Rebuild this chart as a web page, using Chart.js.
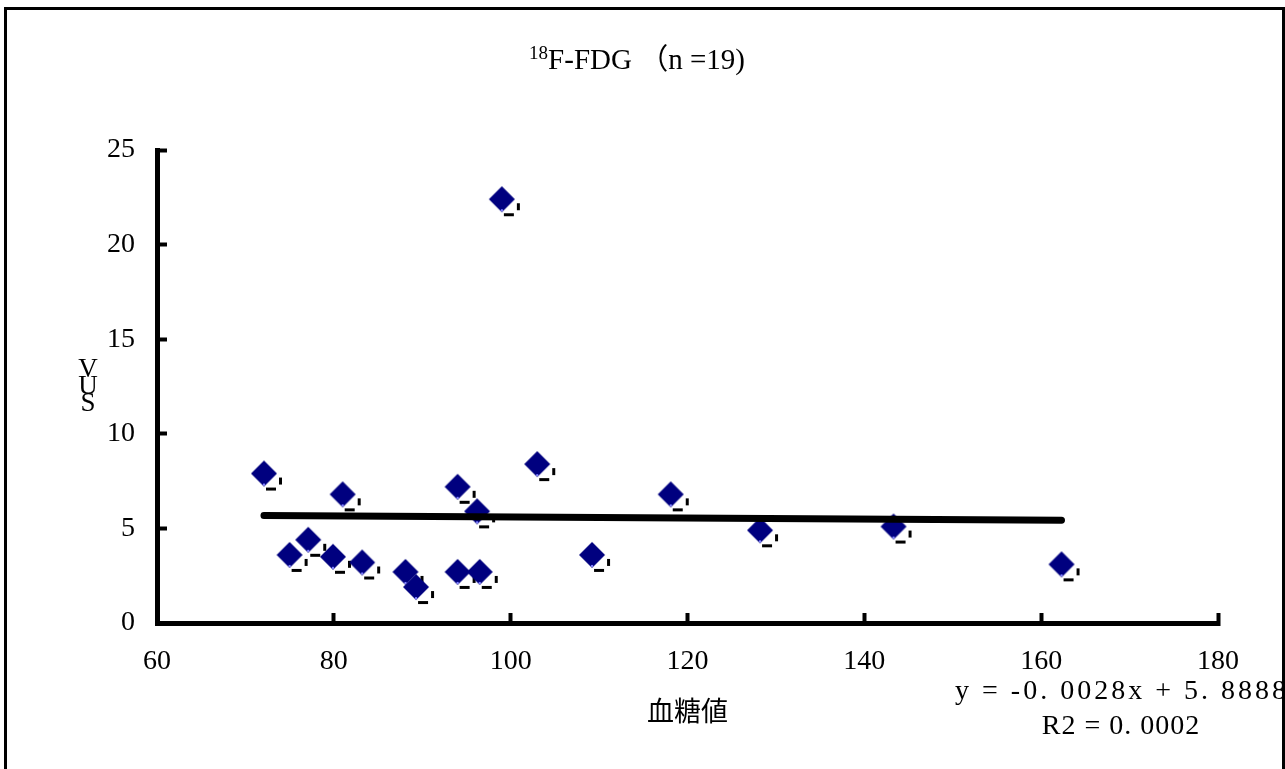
<!DOCTYPE html>
<html>
<head>
<meta charset="utf-8">
<script src="https://cdn.jsdelivr.net/npm/chart.js@4.4.0/dist/chart.umd.min.js"></script>
<style>
    body { margin: 0; background: #fff; }
    #frame {
        position: absolute;
        left: 4px;
        top: 7px;
        width: 1275px;
        height: 800px;
        border: 3px solid #000;
    }
    #chart { position: absolute; left: 0; top: 0; }
</style>
</head>
<body>
<div id="frame"></div>
<canvas id="chart" width="1285" height="769"></canvas>
<script>
// blood glucose (x) vs SUV (y)
const glucose = [72.1, 75.0, 77.1, 79.9, 81.0, 83.2, 88.1, 89.3, 94.0, 94.0, 96.2, 96.5, 99.0, 103.0, 109.2, 118.1, 128.2, 143.3, 162.3];
const suv = [7.9, 3.6, 4.4, 3.5, 6.8, 3.2, 2.7, 1.9, 7.2, 2.7, 5.9, 2.7, 22.4, 8.4, 3.6, 6.8, 4.9, 5.1, 3.1];

// trend line as printed on the chart
const trendSlope = -0.0028;
const trendIntercept = 5.8888;
const trendText = ['y = -0. 0028x + 5. 8888', 'R2 = 0. 0002'];

const titleSup = '18';
const titleMain = 'F-FDG \uFF08n =19)';
const xTitle = '血糖値';
const yTitleLetters = ['S', 'U', 'V'];

const xTicks = { min: 60, max: 180, step: 20 };
const yTicks = { min: 0, max: 25, step: 5 };

const points = glucose.map((g, i) => ({ x: g, y: suv[i] }));
const xLo = Math.min(...glucose);
const xHi = Math.max(...glucose);
const trendPoints = [
    { x: xLo, y: trendSlope * xLo + trendIntercept },
    { x: xHi, y: trendSlope * xHi + trendIntercept }
];

const serif = "'Liberation Serif', 'Noto Sans CJK JP', serif";

// navy diamond with the little black shadow marks
function makeMarker() {
    const c = document.createElement('canvas');
    c.width = 46;
    c.height = 46;
    const g = c.getContext('2d');
    const cx = 23, cy = 23, h = 13;
    g.fillStyle = '#000';
    g.fillRect(cx + 15, cy + 4, 3, 7);
    g.fillRect(cx + 2, cy + 14, 10, 3);
    g.fillStyle = '#00007f';
    g.beginPath();
    g.moveTo(cx, cy - h);
    g.lineTo(cx + h, cy);
    g.lineTo(cx, cy + h);
    g.lineTo(cx - h, cy);
    g.closePath();
    g.fill();
    g.fillStyle = '#8080ff';
    g.fillRect(cx - 1, cy + h - 3, 2, 2);
    return c;
}

const annotations = {
    id: 'annotations',
    afterDraw(chart) {
        const ctx = chart.ctx;
        const area = chart.chartArea;
        const yMid = chart.scales.y.getPixelForValue((yTicks.min + yTicks.max) / 2);
        ctx.save();
        ctx.fillStyle = '#000';
        ctx.textBaseline = 'middle';

        // title with superscript mass number
        ctx.textAlign = 'left';
        ctx.font = '19px ' + serif;
        const supW = ctx.measureText(titleSup).width;
        ctx.font = '29px ' + serif;
        const mainW = ctx.measureText(titleMain).width;
        const tx = 637 - (supW + mainW) / 2;
        ctx.fillText(titleMain, tx + supW, 61);
        ctx.font = '19px ' + serif;
        ctx.fillText(titleSup, tx, 54);

        ctx.textAlign = 'center';
        ctx.font = '27px ' + serif;
        // stacked y label
        yTitleLetters.forEach((ch, i) => {
            ctx.fillText(ch, area.left - 69, yMid + 17 - i * 17);
        });
        // regression text
        ctx.font = '28px ' + serif;
        ctx.letterSpacing = '3px';
        ctx.fillText(trendText[0], area.right - 96, area.bottom + 69);
        ctx.letterSpacing = '1px';
        ctx.fillText(trendText[1], area.right - 97, area.bottom + 104);
        ctx.restore();
    }
};

new Chart(document.getElementById('chart'), {
    type: 'scatter',
    data: {
        datasets: [
            {
                type: 'line',
                data: trendPoints,
                borderColor: '#000',
                borderWidth: 7,
                borderCapStyle: 'round',
                pointRadius: 0,
                fill: false,
                order: 0
            },
            {
                data: points,
                pointStyle: makeMarker(),
                pointRadius: 13,
                order: 1
            }
        ]
    },
    options: {
        responsive: false,
        animation: false,
        layout: {
            padding: { left: 0, right: 67, top: 150, bottom: 26 }
        },
        plugins: {
            legend: { display: false },
            tooltip: { enabled: false },
            title: { display: false }
        },
        scales: {
            x: {
                type: 'linear',
                min: xTicks.min,
                max: xTicks.max,
                afterFit: s => { s.height = 120; },
                ticks: {
                    stepSize: xTicks.step,
                    color: '#000',
                    padding: 32,
                    maxRotation: 0,
                    font: { family: serif, size: 28 }
                },
                grid: {
                    drawOnChartArea: false,
                    tickLength: -10,
                    tickWidth: 4,
                    color: '#000'
                },
                border: { color: '#000', width: 5 },
                title: {
                    display: true,
                    text: xTitle,
                    color: '#000',
                    font: { family: serif, size: 27 },
                    padding: { top: 0, bottom: 13 }
                }
            },
            y: {
                type: 'linear',
                min: yTicks.min,
                max: yTicks.max,
                afterFit: s => { s.width = 157; },
                ticks: {
                    stepSize: yTicks.step,
                    color: '#000',
                    padding: 32,
                    font: { family: serif, size: 28 }
                },
                grid: {
                    drawOnChartArea: false,
                    tickLength: -10,
                    tickWidth: 4,
                    color: '#000'
                },
                border: { color: '#000', width: 5 }
            }
        }
    },
    plugins: [annotations]
});
</script>
</body>
</html>
